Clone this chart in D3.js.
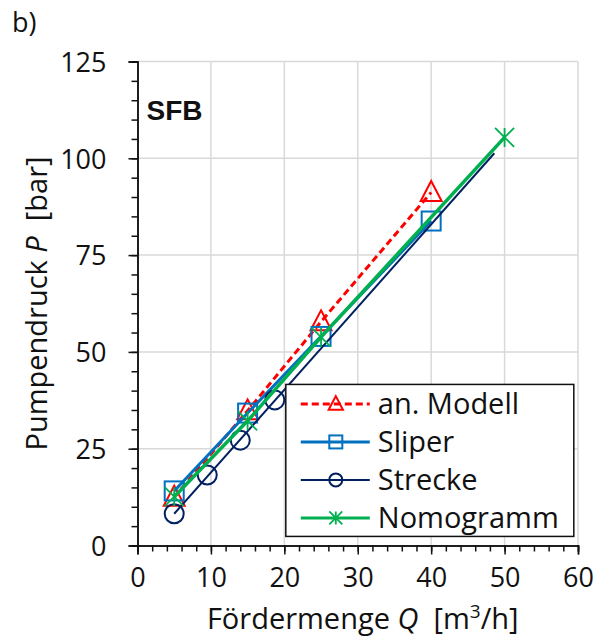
<!DOCTYPE html>
<html>
<head>
<meta charset="utf-8">
<script src="https://cdn.jsdelivr.net/npm/d3@7"></script>
<style>
  body { margin: 0; background: #fff; }
  text { font-family: "Open Sans", "Noto Sans", sans-serif; fill: #111; }
</style>
</head>
<body>
<svg width="606" height="637"></svg>
<script>
// data
const modellQ = [5, 15, 25, 40];
const modellP = [12.5, 34.8, 57.8, 91.2];
const sliperQ = [5, 15, 25, 40];
const sliperP = [14.1, 34.2, 54.0, 83.8];
const streckeQ = [5, 9.5, 14, 18.7];
const streckeP = [8.2, 18.2, 27.2, 37.6];
const streckeLineQ = [5, 48.6];
const streckeLineP = [8.2, 101.3];
const nomoQ = [5, 15, 25, 50];
const nomoP = [12.6, 32.2, 53.8, 105.4];
const xTicks = [0, 10, 20, 30, 40, 50, 60];
const yTicks = [0, 25, 50, 75, 100, 125];

const margin = { top: 61.5, left: 137.5, right: 28, bottom: 91.5 };
const width = 606 - margin.left - margin.right;
const height = 637 - margin.top - margin.bottom;

const svg = d3.select("svg");
const g = svg.append("g")
  .attr("transform", `translate(${margin.left},${margin.top})`);

const x = d3.scaleLinear().domain([0, 60]).range([0, width]);
const y = d3.scaleLinear().domain([0, 125]).range([height, 0]);

const zip = (a, b) => a.map((v, i) => ({ q: v, p: b[i] }));

// grid
g.append("g").selectAll("line")
  .data(xTicks.slice(1))
  .enter().append("line")
  .attr("x1", d => x(d)).attr("x2", d => x(d))
  .attr("y1", 0).attr("y2", height)
  .attr("stroke", "#d9d9d9").attr("stroke-width", 1.5);
g.append("g").selectAll("line")
  .data(yTicks.slice(1))
  .enter().append("line")
  .attr("x1", 0).attr("x2", width)
  .attr("y1", d => y(d)).attr("y2", d => y(d))
  .attr("stroke", "#d9d9d9").attr("stroke-width", 1.5);

// axes: minor ticks, then major ticks with labels
const xMinor = g.append("g").attr("transform", `translate(0,${height})`)
  .call(d3.axisBottom(x).ticks(30).tickSize(6).tickFormat(""));
const xAxis = g.append("g").attr("transform", `translate(0,${height})`)
  .call(d3.axisBottom(x).tickValues(xTicks).tickSize(9).tickPadding(13));
const yMinor = g.append("g")
  .call(d3.axisLeft(y).ticks(25).tickSize(6).tickFormat(""));
const yAxis = g.append("g")
  .call(d3.axisLeft(y).tickValues(yTicks).tickSize(9).tickPadding(22));

[xMinor, xAxis, yMinor, yAxis].forEach(a => {
  a.select(".domain").attr("stroke", "#111").attr("stroke-width", 1.5);
  a.selectAll(".tick line").attr("stroke", "#111").attr("stroke-width", 1.5);
});
xAxis.selectAll("text").attr("font-size", 27).attr("font-family", "Open Sans").attr("fill", "#111");
yAxis.selectAll("text").attr("font-size", 27).attr("font-family", "Open Sans").attr("fill", "#111")
  .attr("dy", "0.36em");

// series
const line = d3.line().x(d => x(d.q)).y(d => y(d.p));

const series = [
  { name: "an. Modell", data: zip(modellQ, modellP), lineData: zip(modellQ, modellP),
    color: "#ff0000", width: 3, dash: "7,4", marker: "triangle" },
  { name: "Sliper", data: zip(sliperQ, sliperP), lineData: zip(sliperQ, sliperP),
    color: "#0070c0", width: 3, dash: null, marker: "square" },
  { name: "Strecke", data: zip(streckeQ, streckeP), lineData: zip(streckeLineQ, streckeLineP),
    color: "#002060", width: 2, dash: null, marker: "circle" },
  { name: "Nomogramm", data: zip(nomoQ, nomoP), lineData: zip(nomoQ, nomoP),
    color: "#00b050", width: 3.5, dash: null, marker: "star" }
];

function drawMarker(sel, type, color, s) {
  if (type === "triangle") {
    sel.append("path")
      .attr("d", `M0,${-s * 0.6}L${s * 0.55},${s * 0.45}L${-s * 0.55},${s * 0.45}Z`)
      .attr("fill", "none").attr("stroke", color).attr("stroke-width", 2);
  } else if (type === "square") {
    sel.append("rect")
      .attr("x", -s / 2).attr("y", -s / 2).attr("width", s).attr("height", s)
      .attr("fill", "none").attr("stroke", color).attr("stroke-width", 2);
  } else if (type === "circle") {
    sel.append("circle").attr("r", s / 2)
      .attr("fill", "none").attr("stroke", color).attr("stroke-width", 2);
  } else {
    const r = s / 2;
    sel.append("path")
      .attr("d", `M${-r},${-r}L${r},${r}M${-r},${r}L${r},${-r}M0,${-r}L0,${r}`)
      .attr("fill", "none").attr("stroke", color).attr("stroke-width", 1.8);
  }
}

series.forEach(s => {
  g.append("path")
    .datum(s.lineData)
    .attr("d", line)
    .attr("fill", "none")
    .attr("stroke", s.color)
    .attr("stroke-width", s.width)
    .attr("stroke-dasharray", s.dash);
  g.append("g").selectAll("g")
    .data(s.data)
    .enter().append("g")
    .attr("transform", d => `translate(${x(d.q)},${y(d.p)})`)
    .each(function () { drawMarker(d3.select(this), s.marker, s.color, 19); });
});

// legend
const legend = g.append("g").attr("transform", `translate(${x(20.2)},${y(41.6)})`);
legend.append("rect")
  .attr("width", 288).attr("height", 152)
  .attr("fill", "#fff").attr("stroke", "#111").attr("stroke-width", 1.5);
series.forEach((s, i) => {
  const row = legend.append("g").attr("transform", `translate(0,${19.5 + i * 38})`);
  row.append("line")
    .attr("x1", 15).attr("x2", 84)
    .attr("stroke", s.color).attr("stroke-width", Math.min(s.width, 3))
    .attr("stroke-dasharray", s.dash);
  const m = row.append("g").attr("transform", "translate(50,0)");
  drawMarker(m, s.marker, s.color, 13);
  row.append("text")
    .attr("x", 92).attr("dy", "0.36em")
    .attr("font-size", 29)
    .text(s.name);
});

// labels
g.append("text")
  .attr("x", 9).attr("y", y(110))
  .attr("font-weight", "bold").attr("font-size", 28)
  .style("font-family", "'Liberation Sans', Arial, sans-serif")
  .attr("fill", "#222")
  .text("SFB");

svg.append("text")
  .attr("x", 12).attr("y", 32)
  .attr("font-size", 27)
  .text("b)");

const xt = svg.append("text")
  .attr("x", margin.left + width / 2 + 5).attr("y", 629)
  .attr("text-anchor", "middle")
  .attr("font-size", 29);
xt.append("tspan").text("Fördermenge ");
xt.append("tspan").attr("font-style", "italic").text("Q");
xt.append("tspan").text("\u00a0 [m");
xt.append("tspan").attr("font-size", 19).attr("dy", -11).text("3");
xt.append("tspan").attr("dy", 11).text("/h]");

const yt = svg.append("text")
  .attr("transform", `translate(47,${margin.top + height / 2}) rotate(-90)`)
  .attr("text-anchor", "middle")
  .attr("font-size", 29);
yt.append("tspan").text("Pumpendruck ");
yt.append("tspan").attr("font-style", "italic").text("P");
yt.append("tspan").text("\u00a0 [bar]");
</script>
</body>
</html>
